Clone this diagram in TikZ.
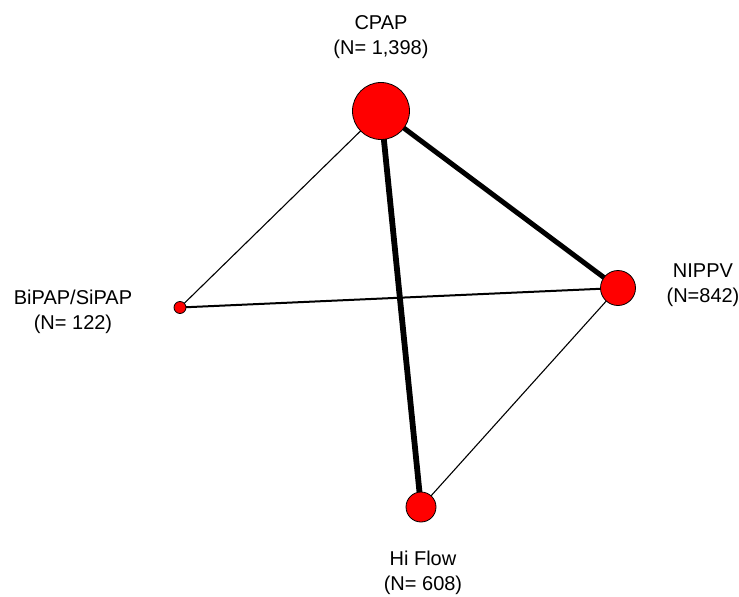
\documentclass[tikz,border=0pt]{standalone}
\usepackage{fontspec}
\setmainfont{Liberation Sans}
\usetikzlibrary{positioning}
\colorlet{arm colour}{red}
\colorlet{edge colour}{black}
\tikzset{
    % Define a set of styles
    % First the treatment circles, sized by the number of patients
    arm/.style={circle, draw=black, line width=0.8pt, fill=arm colour,
        inner sep=0, minimum size=#1},
    % Next the comparisons, thicker for more trials
    few trials/.style={color=edge colour, line width=1.1pt},
    some trials/.style={color=edge colour, line width=2pt},
    many trials/.style={color=edge colour, line width=5pt},
    most trials/.style={color=edge colour, line width=5.8pt},
%
    % We almost always want centre aligned node text
    every node/.style={align=center},
    arm label/.style={font=\fontsize{20}{25}\selectfont},
}
\pgfdeclarelayer{background}
\pgfsetlayers{background,main}

\begin{document}
\begin{tikzpicture}[x=1pt, y=-1pt]

\useasboundingbox (0,0) rectangle (739,597);

% The four treatment arms
\node [arm=57pt] (cpap) at (381,111) {};
\node [arm=12pt] (bipap) at (180,307.5) {};
\node [arm=35pt] (nippv) at (618,288) {};
\node [arm=30pt] (hiflow) at (421,507) {};

% Their labels
\node [arm label] (cpap label) at (381,37) {CPAP\\(N= 1,398)};
\node [arm label] (bipap label) at (73,312) {BiPAP/SiPAP\\(N= 122)};
\node [arm label] (nippv label) at (703,285) {NIPPV\\(N=842)};
\node [arm label] (hiflow label) at (423,573) {Hi Flow\\(N= 608)};

% Direct comparisons behind the circles
\begin{pgfonlayer}{background}
    \draw [few trials] (cpap.center) -- (bipap.center);
    \draw [many trials] (cpap.center) -- (nippv.center);
    \draw [most trials] (cpap.center) -- (hiflow.center);
    \draw [some trials] (bipap.center) -- (nippv.center);
    \draw [few trials] (nippv.center) -- (hiflow.center);
\end{pgfonlayer}

\end{tikzpicture}
\end{document}
